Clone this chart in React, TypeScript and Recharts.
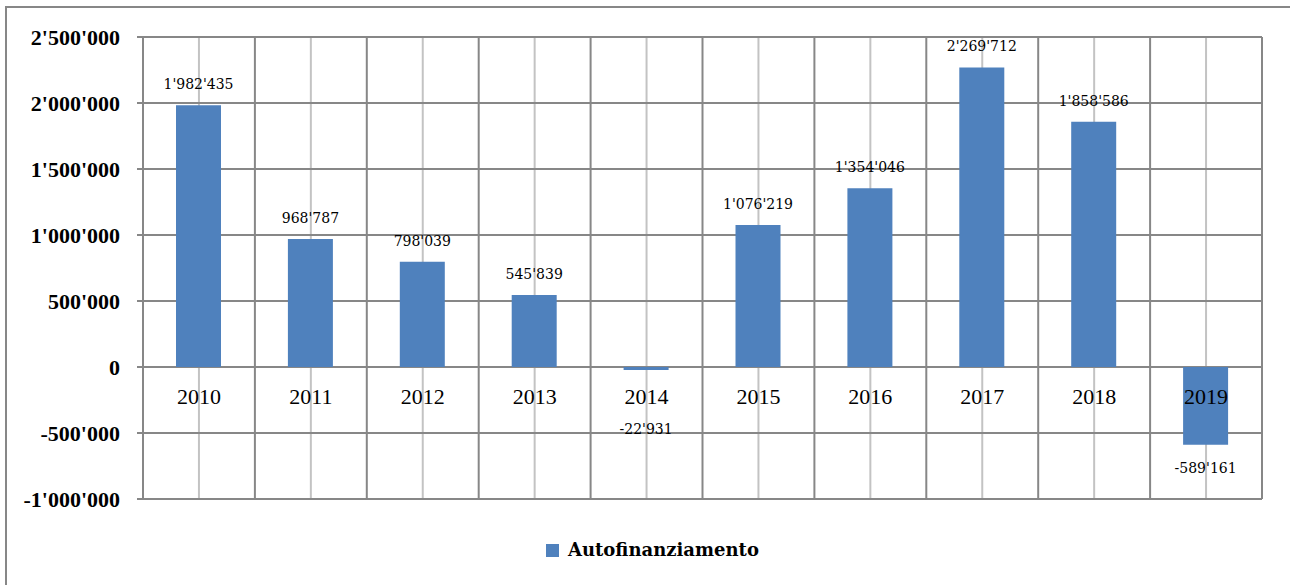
import { BarChart, Bar, XAxis, YAxis, CartesianGrid, LabelList } from 'recharts';

const years = ['2010', '2011', '2012', '2013', '2014', '2015', '2016', '2017', '2018', '2019'];
const autofinanziamento = [1982435, 968787, 798039, 545839, -22931, 1076219, 1354046, 2269712, 1858586, -589161];
const yTicks = [-1000000, -500000, 0, 500000, 1000000, 1500000, 2000000, 2500000];
// category boundaries on the index axis (category i spans i-0.5 .. i+0.5)
const edgeTicks = [-0.5, 0.5, 1.5, 2.5, 3.5, 4.5, 5.5, 6.5, 7.5, 8.5, 9.5];

const WIDTH = 1290;
const HEIGHT = 585;
const MARGIN = { top: 37, right: 28, left: 0, bottom: 85 };
const PLOT_H = HEIGHT - MARGIN.top - MARGIN.bottom - 1;
const Y_MIN = yTicks[0];
const Y_MAX = yTicks[yTicks.length - 1];
// distance from the bottom of the plot up to the zero line
const ZERO_FROM_BOTTOM = (PLOT_H * (0 - Y_MIN)) / (Y_MAX - Y_MIN);

const SERIF = 'Liberation Serif, DejaVu Serif, serif';
const LABEL_FONT = 'DejaVu Serif, serif';
const GRID_DARK = '#878787';
const GRID_LIGHT = '#c3c3c3';
const BAR_COLOR = '#4f81bd';

const data = years.map((year, i) => ({ year, idx: i, value: autofinanziamento[i] }));

// 2500000 -> 2'500'000
function swissFormat(v: number) {
  const sign = v < 0 ? '-' : '';
  return sign + Math.abs(Math.round(v)).toString().replace(/\B(?=(\d{3})+(?!\d))/g, "'");
}

function YearTick(props: any) {
  const { x, y, payload } = props;
  return (
    <text
      x={x}
      y={y - ZERO_FROM_BOTTOM + 29}
      textAnchor="middle"
      dominantBaseline="central"
      style={{ fontFamily: SERIF, fontSize: 22 }}
      fill="#000"
    >
      {payload.value}
    </text>
  );
}

function ValueTick(props: any) {
  const { x, y, payload } = props;
  return (
    <text
      x={x}
      y={y}
      textAnchor="end"
      dominantBaseline="central"
      style={{ fontFamily: SERIF, fontSize: 22, fontWeight: 600 }}
      fill="#000"
    >
      {swissFormat(payload.value)}
    </text>
  );
}

function ValueLabel(props: any) {
  const { x, y, width, height, value } = props;
  const top = Math.min(y, y + height);
  const bottom = Math.max(y, y + height);
  const cx = x + width / 2;
  // negative labels go below the bar, but never on top of the year label
  const ly = value >= 0 ? top - 21 : Math.max(bottom + 23, top + 62);
  return (
    <text
      x={cx}
      y={ly}
      textAnchor="middle"
      dominantBaseline="central"
      style={{ fontFamily: LABEL_FONT, fontSize: 14 }}
      fill="#000"
    >
      {swissFormat(value)}
    </text>
  );
}

export default function App() {
  return (
    <div style={{ position: 'absolute', left: 0, top: 0, width: WIDTH, height: HEIGHT, overflow: 'hidden', background: '#fff' }}>
      <div
        style={{
          position: 'absolute',
          left: 5,
          top: 6,
          width: WIDTH + 20,
          height: HEIGHT + 20,
          borderLeft: `2px solid ${GRID_DARK}`,
          borderTop: `2px solid ${GRID_DARK}`,
        }}
      />
      <div style={{ position: 'absolute', left: 0, top: 0 }}>
        <BarChart width={WIDTH} height={HEIGHT} data={data} margin={MARGIN} barCategoryGap={0}>
          <XAxis
            xAxisId="edge"
            type="number"
            dataKey="idx"
            domain={[-0.5, 9.5]}
            ticks={edgeTicks}
            allowDataOverflow
            hide
          />
          <CartesianGrid
            xAxisId="cat"
            horizontal={false}
            vertical
            stroke={GRID_LIGHT}
            strokeWidth={2}
          />
          <CartesianGrid
            xAxisId="edge"
            horizontal
            vertical
            stroke={GRID_DARK}
            strokeWidth={2}
          />
          <XAxis
            xAxisId="cat"
            dataKey="year"
            height={1}
            axisLine={false}
            tickLine={false}
            tickSize={0}
            tickMargin={0}
            interval={0}
            tick={(p: any) => <YearTick {...p} />}
          />
          <YAxis
            width={143}
            domain={[Y_MIN, Y_MAX]}
            ticks={yTicks}
            interval={0}
            axisLine={{ stroke: GRID_DARK, strokeWidth: 2 }}
            tickLine={{ stroke: GRID_DARK, strokeWidth: 2 }}
            tickSize={6}
            tickMargin={17}
            tick={(p: any) => <ValueTick {...p} />}
          />
          <Bar xAxisId="cat" dataKey="value" fill={BAR_COLOR} barSize={45} isAnimationActive={false}>
            <LabelList dataKey="value" content={<ValueLabel />} />
          </Bar>
        </BarChart>
      </div>
      <div
        style={{
          position: 'absolute',
          left: 546,
          top: 537,
          display: 'flex',
          alignItems: 'center',
          fontFamily: LABEL_FONT,
          fontSize: 18,
          fontWeight: 'bold',
          color: '#000',
          lineHeight: '26px',
        }}
      >
        <span style={{ display: 'inline-block', width: 13, height: 13, background: BAR_COLOR, marginRight: 9 }} />
        Autofinanziamento
      </div>
    </div>
  );
}
